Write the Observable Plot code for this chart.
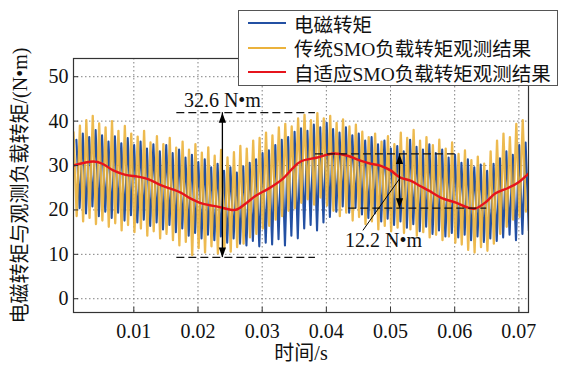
<!DOCTYPE html>
<html>
<head>
<meta charset="utf-8">
<script src="https://cdn.jsdelivr.net/npm/d3@7"></script>
<script src="https://cdn.jsdelivr.net/npm/@observablehq/plot@0.6"></script>
<style>
  html, body { margin: 0; padding: 0; background: #fff; }
  #chart { position: relative; width: 566px; height: 365px; font-family: "Liberation Serif", "Noto Sans CJK SC", serif; color: #111; }
  #chart svg { position: absolute; left: 0; top: 0; }
  #legend { position: absolute; left: 238px; top: 10px; width: 318px; height: 74px; border: 1.5px solid #555; background: #fff; overflow: hidden; }
  #legend .row { height: 24.6px; display: flex; align-items: center; font-size: 19.5px; white-space: nowrap; }
  #legend .sw { flex: 0 0 38px; height: 0; border-top: 2px solid; margin-left: 9px; margin-right: 8px; }
</style>
</head>
<body>
<div id="chart"></div>
<script>
// Series names and colours
const seriesNames = ["电磁转矩", "传统SMO负载转矩观测结果", "自适应SMO负载转矩观测结果"];
const seriesColors = ["#2350a3", "#ebb23c", "#e6141c"];

// Start time (s) of each ripple cycle; the peak sits at the start, the trough half a cycle later
const cycleStart = [
  0.0006, 0.0016, 0.0026, 0.0036, 0.0046, 0.0056, 0.0066, 0.0076, 0.0086, 0.0096,
  0.0106, 0.0116, 0.0126, 0.0136, 0.0146, 0.0156, 0.0166, 0.0176, 0.0186, 0.0196,
  0.0206, 0.0216, 0.0226, 0.0236, 0.0246, 0.0256, 0.0266, 0.0276, 0.0286, 0.0296,
  0.0306, 0.0316, 0.0326, 0.0336, 0.0346, 0.0356, 0.0366, 0.0376, 0.0386, 0.0396,
  0.0406, 0.0416, 0.0426, 0.0436, 0.0446, 0.0456, 0.0466, 0.0476, 0.0486, 0.0496,
  0.0506, 0.0516, 0.0526, 0.0536, 0.0546, 0.0556, 0.0566, 0.0576, 0.0586, 0.0596,
  0.0606, 0.0616, 0.0626, 0.0636, 0.0646, 0.0656, 0.0666, 0.0676, 0.0686, 0.0696,
  0.0706
];
const halfCycle = 0.0005;
const torqueLag = 0.00045;

// Electromagnetic torque: ripple peaks and troughs (N·m)
const torquePeak = [
  35.8, 37.2, 36.4, 38.0, 36.8, 35.4, 36.6, 35.0, 36.2, 34.6,
  35.4, 33.8, 34.8, 33.2, 34.6, 32.8, 33.6, 31.8, 32.4, 30.8,
  31.4, 29.6, 30.4, 28.8, 29.6, 28.4, 29.8, 30.6, 31.4, 32.8,
  33.4, 34.6, 35.8, 36.4, 37.6, 38.4, 37.8, 39.2, 38.6, 39.6,
  38.2, 37.4, 38.6, 36.8, 37.2, 35.6, 36.4, 34.8, 35.6, 33.8,
  34.4, 33.2, 35.8, 34.2, 33.6, 34.8, 32.8, 33.6, 31.8, 32.4,
  30.6, 31.4, 29.6, 30.2, 28.8, 30.4, 31.6, 33.2, 32.4, 34.6,
  35.2
];
const torqueTrough = [
  20.4, 19.2, 20.8, 18.6, 19.6, 18.2, 19.4, 17.6, 18.8, 17.2,
  17.8, 16.4, 17.2, 15.6, 16.6, 15.0, 15.8, 14.2, 14.8, 13.6,
  14.4, 13.2, 14.0, 12.6, 13.6, 12.4, 12.0, 13.0, 11.8, 12.6,
  12.2, 13.4, 12.0, 14.2, 13.6, 15.8, 16.6, 15.4, 17.2, 18.4,
  19.6, 20.8, 19.4, 20.6, 19.0, 18.2, 19.2, 17.4, 18.0, 16.6,
  17.4, 16.0, 16.8, 15.2, 16.2, 14.6, 15.4, 14.0, 14.8, 13.8,
  14.4, 13.2, 14.0, 12.8, 13.6, 13.0, 13.8, 14.4, 13.2, 14.6,
  15.4
];

// Conventional SMO load-torque estimate: ripple peaks and troughs (N·m)
const smoPeak = [
  37.5, 39.0, 40.2, 41.2, 39.5, 38.6, 40.0, 37.8, 38.9, 37.2,
  36.5, 37.8, 35.2, 36.6, 34.8, 36.2, 34.0, 35.4, 33.6, 34.8,
  32.9, 34.1, 32.2, 33.5, 31.8, 33.0, 34.4, 33.8, 35.6, 36.2,
  37.4, 36.8, 38.6, 39.4, 38.8, 40.6, 41.4, 40.2, 41.8, 40.6,
  41.2, 39.6, 40.4, 38.8, 39.2, 37.6, 36.4, 37.2, 35.4, 36.6,
  34.8, 37.4, 36.2, 38.0, 35.6, 36.4, 34.6, 35.8, 33.8, 35.2,
  32.6, 33.4, 31.2, 32.0, 30.4, 33.2, 35.6, 37.2, 36.4, 39.4,
  40.2
];
const smoTrough = [
  18.6, 17.4, 18.2, 16.8, 17.6, 16.2, 17.0, 15.4, 16.6, 15.0,
  15.8, 14.2, 15.2, 13.6, 14.6, 13.2, 12.0, 12.8, 9.8, 11.4,
  10.4, 11.8, 10.2, 11.2, 10.6, 11.6, 12.4, 13.8, 14.6, 15.8,
  16.4, 17.8, 18.6, 19.8, 20.4, 21.6, 22.4, 21.2, 22.8, 21.0,
  19.8, 18.6, 19.4, 17.6, 18.4, 16.8, 17.4, 15.6, 16.4, 15.2,
  16.0, 14.8, 15.6, 14.2, 15.0, 13.8, 14.4, 13.2, 14.0, 12.6,
  12.2, 11.0, 10.4, 11.6, 10.8, 12.4, 14.6, 16.2, 17.8, 18.4,
  19.6
];

// Adaptive SMO load-torque estimate (s, N·m)
const adaptiveT = [
  0.0006, 0.0037, 0.0051, 0.0068, 0.0087, 0.0106, 0.0121, 0.0142, 0.0157, 0.0173,
  0.0188, 0.0207, 0.0232, 0.0258, 0.0274, 0.0290, 0.0310, 0.0332, 0.0347, 0.0360,
  0.0386, 0.0411, 0.0433, 0.0453, 0.0469, 0.0484, 0.0500, 0.0515, 0.0531, 0.0546,
  0.0559, 0.0581, 0.0601, 0.0621, 0.0632, 0.0648, 0.0663, 0.0684, 0.0699, 0.0715
];
const adaptiveV = [
  30.0, 30.9, 30.4, 28.9, 27.9, 27.5, 27.0, 25.6, 24.8, 23.9,
  22.6, 21.4, 20.7, 20.0, 21.4, 23.2, 24.8, 27.0, 29.3, 30.9,
  31.8, 32.7, 32.2, 31.1, 30.4, 30.0, 28.9, 27.3, 26.6, 25.4,
  24.4, 22.6, 21.7, 20.5, 20.3, 21.7, 23.7, 25.0, 26.2, 28.2
];

// Axis ticks and titles
const xTicks = [0.01, 0.02, 0.03, 0.04, 0.05, 0.06, 0.07];
const yTicks = [0, 10, 20, 30, 40, 50];
const xTitle = "时间/s";
const yTitle = "电磁转矩与观测负载转矩/(N•m)";

// Ripple spans marked with double arrows
const spans = [
  {at: 0.0238, low: 9.3, high: 41.9, lowFrom: 0.0167, lowTo: 0.0383, highFrom: 0.0167, highTo: 0.0383, labelT: 0.0238, labelV: 44.6},
  {at: 0.0514, low: 20.4, high: 32.6, lowFrom: 0.0435, lowTo: 0.0650, highFrom: 0.0383, highTo: 0.0601, labelT: 0.0489, labelV: 13.2}
];
const leaders = [{t1: 0.0457, v1: 15.4, t2: 0.0514, v2: 27.0}];

// Build line tables
const torque = cycleStart.flatMap((t, k) => [
  {t: t + torqueLag, v: torquePeak[k]},
  {t: t + torqueLag + halfCycle, v: torqueTrough[k]}
]);
const smo = cycleStart.flatMap((t, k) => [
  {t: t, v: smoPeak[k]},
  {t: t + halfCycle, v: smoTrough[k]}
]);
const adaptive = adaptiveT.map((t, i) => ({t, v: adaptiveV[i]}));

const spanEnds = spans.flatMap(s => [
  {t1: s.lowFrom, t2: s.lowTo, v: s.low},
  {t1: s.highFrom, t2: s.highTo, v: s.high}
]);

// Filled arrowheads with the tip at the anchor point
const headUp = {draw(ctx) { ctx.moveTo(0, 0); ctx.lineTo(3.6, 10); ctx.lineTo(-3.6, 10); ctx.closePath(); }};
const headDown = {draw(ctx) { ctx.moveTo(0, 0); ctx.lineTo(3.6, -10); ctx.lineTo(-3.6, -10); ctx.closePath(); }};

const font = '"Liberation Serif", "Noto Sans CJK SC", serif';
const gridStyle = {stroke: "#808080", strokeOpacity: 1, strokeWidth: 1, strokeDasharray: "1.5,2.5"};

const chart = Plot.plot({
  width: 566,
  height: 365,
  marginLeft: 73,
  marginRight: 38,
  marginTop: 58,
  marginBottom: 53,
  x: {domain: [0.0006, 0.0715]},
  y: {domain: [-3.1, 54.1]},
  style: {fontFamily: font, fontSize: "20px", background: "transparent", color: "#111"},
  marks: [
    Plot.gridX(xTicks, gridStyle),
    Plot.gridY(yTicks, gridStyle),
    Plot.line(torque, {x: "t", y: "v", stroke: seriesColors[0], strokeWidth: 2.1, clip: true}),
    Plot.line(smo, {x: "t", y: "v", stroke: seriesColors[1], strokeWidth: 2.3, strokeOpacity: 0.9, clip: true}),
    Plot.line(adaptive, {x: "t", y: "v", curve: "catmull-rom", stroke: seriesColors[2], strokeWidth: 2.4, clip: true}),
    Plot.ruleY(spanEnds, {y: "v", x1: "t1", x2: "t2", stroke: "#111", strokeWidth: 1.2, strokeDasharray: "8,4"}),
    Plot.ruleX(spans, {x: "at", y1: "low", y2: "high", stroke: "#000", strokeWidth: 1.3}),
    Plot.dot(spans, {x: "at", y: "high", symbol: headUp, fill: "#000", stroke: "none"}),
    Plot.dot(spans, {x: "at", y: "low", symbol: headDown, fill: "#000", stroke: "none"}),
    Plot.link(leaders, {x1: "t1", y1: "v1", x2: "t2", y2: "v2", stroke: "#000", strokeWidth: 1}),
    Plot.text(spans, {x: "labelT", y: "labelV", text: d => `${(d.high - d.low).toFixed(1)} N•m`, fontSize: 20, fill: "#111"}),
    Plot.frame({stroke: "#333", strokeWidth: 1.2}),
    Plot.axisX(xTicks, {anchor: "bottom", tickSize: 0, tickPadding: 11, tickFormat: d3.format(".2f"), label: null}),
    Plot.axisX(xTicks, {anchor: "bottom", tickSize: 5, dy: -5, text: null, label: null, stroke: "#333"}),
    Plot.axisY(yTicks, {anchor: "left", tickSize: 0, tickPadding: 5, label: null}),
    Plot.axisY(yTicks, {anchor: "left", tickSize: 5, dx: 5, text: null, label: null, stroke: "#333"}),
    Plot.text([xTitle], {frameAnchor: "bottom", lineAnchor: "middle", dy: 41, fontSize: 20, fill: "#111"}),
    Plot.text([yTitle], {frameAnchor: "left", textAnchor: "middle", lineAnchor: "middle", dx: -53, rotate: -90, fontSize: 20, fill: "#111"})
  ]
});

const root = document.getElementById("chart");
root.appendChild(chart);

// Legend box drawn over the top-right corner of the frame
const legend = document.createElement("div");
legend.id = "legend";
seriesNames.forEach((name, i) => {
  const row = document.createElement("div");
  row.className = "row";
  const sw = document.createElement("span");
  sw.className = "sw";
  sw.style.borderTopColor = seriesColors[i];
  const label = document.createElement("span");
  label.textContent = name;
  row.appendChild(sw);
  row.appendChild(label);
  legend.appendChild(row);
});
root.appendChild(legend);
</script>
</body>
</html>
